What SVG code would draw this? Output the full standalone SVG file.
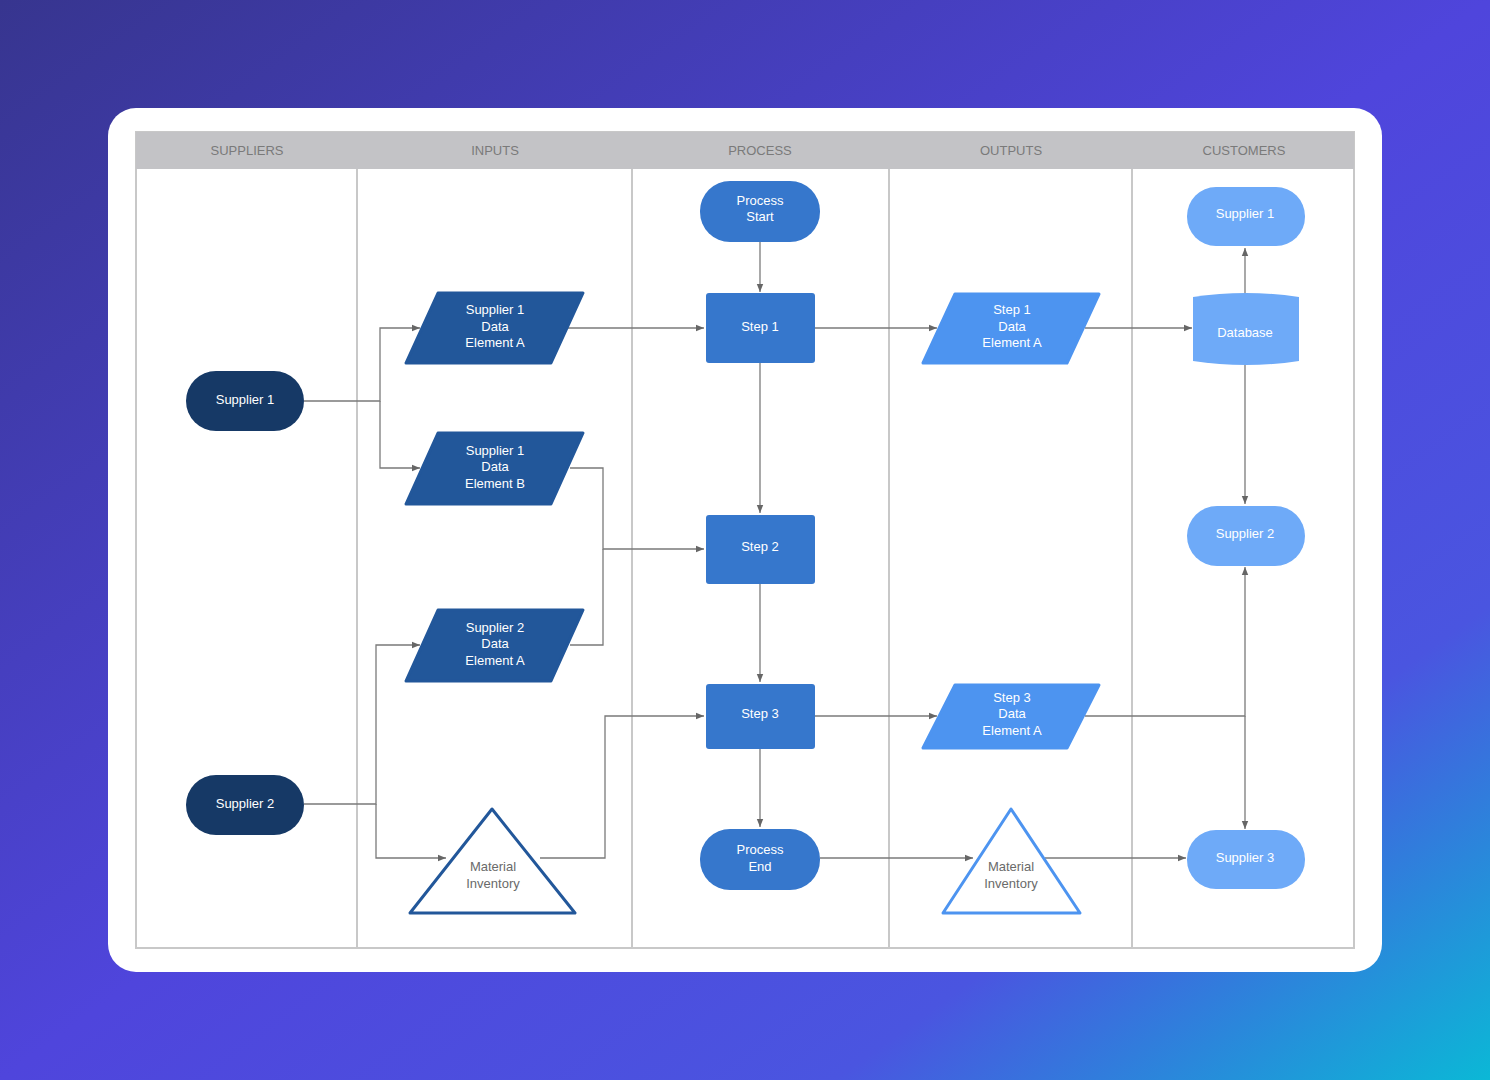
<svg xmlns="http://www.w3.org/2000/svg" width="1490" height="1080" viewBox="0 0 1490 1080">
<defs>
<linearGradient id="bg" x1="0" y1="0" x2="1" y2="1">
<stop offset="0" stop-color="#37358f"/>
<stop offset="0.5" stop-color="#4f45dc"/>
<stop offset="0.78" stop-color="#4a55e0"/>
<stop offset="1" stop-color="#0bb8d6"/>
</linearGradient>
<marker id="ar" viewBox="0 0 10 10" refX="10" refY="5" markerWidth="8" markerHeight="8" orient="auto" markerUnits="userSpaceOnUse"><path d="M0,1 L10,5 L0,9 z" fill="#666"/></marker>
<style>
text{font-family:"Liberation Sans",Arial,sans-serif;font-size:13px;text-anchor:middle;fill:#fff}
.h{fill:#7a7a7a}
.g{fill:#6a6a6a}
.c path,.c line{fill:none;stroke:#7a7a7a;stroke-width:1.3}
.a{marker-end:url(#ar)}
.grid{stroke:#c8c8c8;stroke-width:2;fill:none}
</style>
</defs>
<rect width="1490" height="1080" fill="url(#bg)"/>
<rect x="108" y="108" width="1274" height="864" rx="28" fill="#fff"/>
<rect x="136" y="132" width="1218" height="816" class="grid"/>
<rect x="136" y="132" width="1218" height="37" fill="#c3c3c6"/>
<g class="grid"><line x1="357" y1="169" x2="357" y2="948"/><line x1="632" y1="169" x2="632" y2="948"/><line x1="889" y1="169" x2="889" y2="948"/><line x1="1132" y1="169" x2="1132" y2="948"/></g>
<g id="headers"><text class="h" x="247" y="155">SUPPLIERS</text><text class="h" x="495" y="155">INPUTS</text><text class="h" x="760" y="155">PROCESS</text><text class="h" x="1011" y="155">OUTPUTS</text><text class="h" x="1244" y="155">CUSTOMERS</text></g>
<g class="c" id="connectors">
<path class="a" d="M304,401 H380 V328 H420"/>
<path class="a" d="M380,401 V468 H420"/>
<path class="a" d="M568,328 H704"/>
<path class="a" d="M570,468 H603 V549 H704"/>
<path d="M570,645 H603 V549"/>
<path class="a" d="M304,804 H376 V645 H420"/>
<path class="a" d="M376,804 V858 H446"/>
<path class="a" d="M540,858 H605 V716 H704"/>
<path class="a" d="M760,242 V292"/>
<path class="a" d="M760,363 V513"/>
<path class="a" d="M760,584 V682"/>
<path class="a" d="M760,749 V827"/>
<path class="a" d="M815,328 H937"/>
<path class="a" d="M1085,328 H1192"/>
<path class="a" d="M1245,296 V248"/>
<path class="a" d="M1245,362 V504"/>
<path class="a" d="M815,716 H937"/>
<path class="a" d="M1085,716 H1245 V567"/>
<path class="a" d="M1245,716 V829"/>
<path class="a" d="M820,858 H973"/>
<path class="a" d="M1045,858 H1186"/>
</g>
<g id="sup1"><rect x="186" y="371" width="118" height="60" rx="30" fill="#163966"/><text x="245" y="404">Supplier 1</text></g>
<g id="sup2"><rect x="186" y="775" width="118" height="60" rx="30" fill="#163966"/><text x="245" y="808">Supplier 2</text></g>
<g id="s1a"><path d="M438,293 H583 L551,363 H406 Z" fill="#22579a" stroke-linejoin="round" stroke="#22579a" stroke-width="3"/><text x="495" y="314">Supplier 1</text><text x="495" y="331">Data</text><text x="495" y="347">Element A</text></g>
<g id="s1b"><path d="M438,433 H583 L551,504 H406 Z" fill="#22579a" stroke-linejoin="round" stroke="#22579a" stroke-width="3"/><text x="495" y="455">Supplier 1</text><text x="495" y="471">Data</text><text x="495" y="488">Element B</text></g>
<g id="s2a"><path d="M438,610 H583 L551,681 H406 Z" fill="#22579a" stroke-linejoin="round" stroke="#22579a" stroke-width="3"/><text x="495" y="632">Supplier 2</text><text x="495" y="648">Data</text><text x="495" y="665">Element A</text></g>
<g id="mi1"><path d="M492,809 L575,913 H410 Z" fill="#fff" stroke="#22579a" stroke-width="3" stroke-linejoin="round"/><text class="g" x="493" y="871">Material</text><text class="g" x="493" y="888">Inventory</text></g>
<g id="start"><rect x="700" y="181" width="120" height="61" rx="30" fill="#3677cc"/><text x="760" y="205">Process</text><text x="760" y="221">Start</text></g>
<g id="step1"><rect x="706" y="293" width="109" height="70" rx="3" fill="#3677cc"/><text x="760" y="331">Step 1</text></g>
<g id="step2"><rect x="706" y="515" width="109" height="69" rx="3" fill="#3677cc"/><text x="760" y="551">Step 2</text></g>
<g id="step3"><rect x="706" y="684" width="109" height="65" rx="3" fill="#3677cc"/><text x="760" y="718">Step 3</text></g>
<g id="end"><rect x="700" y="829" width="120" height="61" rx="30" fill="#3677cc"/><text x="760" y="854">Process</text><text x="760" y="871">End</text></g>
<g id="o1"><path d="M955,294 H1099 L1067,363 H923 Z" fill="#4d94f0" stroke="#4d94f0" stroke-width="3" stroke-linejoin="round"/><text x="1012" y="314">Step 1</text><text x="1012" y="331">Data</text><text x="1012" y="347">Element A</text></g>
<g id="o3"><path d="M955,685 H1099 L1067,748 H923 Z" fill="#4d94f0" stroke="#4d94f0" stroke-width="3" stroke-linejoin="round"/><text x="1012" y="702">Step 3</text><text x="1012" y="718">Data</text><text x="1012" y="735">Element A</text></g>
<g id="mi2"><path d="M1011,809 L1080,913 H943 Z" fill="#fff" stroke="#4d94f0" stroke-width="3" stroke-linejoin="round"/><text class="g" x="1011" y="871">Material</text><text class="g" x="1011" y="888">Inventory</text></g>
<g id="c1"><rect x="1187" y="187" width="118" height="59" rx="29" fill="#6eaaf8"/><text x="1245" y="218">Supplier 1</text></g>
<g id="db"><path d="M1193,297 Q1246,289 1299,297 V361 Q1246,369 1193,361 Z" fill="#6eaaf8"/><text x="1245" y="337">Database</text></g>
<g id="c2"><rect x="1187" y="506" width="118" height="60" rx="30" fill="#6eaaf8"/><text x="1245" y="538">Supplier 2</text></g>
<g id="c3"><rect x="1187" y="830" width="118" height="59" rx="29" fill="#6eaaf8"/><text x="1245" y="862">Supplier 3</text></g>
</svg>
